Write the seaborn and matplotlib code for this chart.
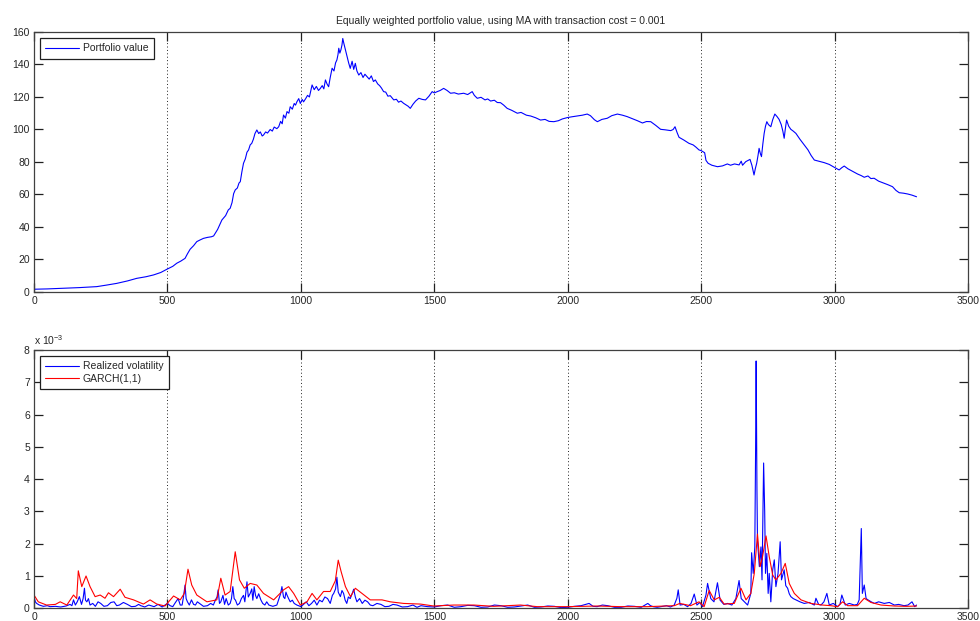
import matplotlib
matplotlib.use("Agg")
import matplotlib.pyplot as plt
import seaborn as sns
import pandas as pd

# Portfolio value (trading day, value)
pv_day = [0, 50, 110, 170, 235, 270, 310, 350, 385, 420, 448, 475, 498, 520, 535, 550,
          566, 575, 585, 598, 610, 622, 635, 650, 665, 673, 688, 704, 718, 728, 735,
          742, 748, 754, 762, 768, 773, 779, 785, 792, 798, 804, 810, 816, 822, 828,
          835, 842, 848, 855, 860, 868, 875, 885, 893, 900, 910, 917, 924, 930, 935,
          942, 948, 955, 960, 968, 975, 980, 985, 992, 998, 1005, 1010, 1018, 1025,
          1032, 1042, 1050, 1058, 1066, 1073, 1080, 1086, 1092, 1098, 1104, 1110, 1117,
          1124, 1130, 1135, 1139, 1142, 1146, 1150, 1154, 1157, 1161, 1167, 1173, 1179,
          1185, 1192, 1198, 1204, 1210, 1217, 1225, 1233, 1240, 1248, 1256, 1264, 1272,
          1279, 1288, 1295, 1302, 1310, 1318, 1326, 1335, 1348, 1358, 1366, 1375, 1385,
          1395, 1402, 1410, 1420, 1430, 1442, 1455, 1467, 1480, 1492, 1500, 1511, 1522,
          1535, 1548, 1561, 1575, 1590, 1610, 1625, 1642, 1650, 1661, 1675, 1690, 1700,
          1711, 1725, 1736, 1748, 1760, 1773, 1790, 1811, 1825, 1845, 1861, 1880, 1898,
          1915, 1930, 1948, 1965, 1980, 1998, 2015, 2036, 2055, 2073, 2085, 2100, 2111,
          2128, 2148, 2165, 2186, 2205, 2223, 2240, 2261, 2280, 2295, 2311, 2330, 2348,
          2365, 2386, 2395, 2402, 2410, 2417, 2435, 2454, 2470, 2480, 2492, 2500, 2513,
          2518, 2526, 2540, 2561, 2580, 2598, 2610, 2625, 2642, 2650, 2655, 2667, 2683,
          2690, 2698, 2703, 2708, 2713, 2717, 2722, 2726, 2731, 2736, 2741, 2746, 2752,
          2761, 2768, 2776, 2784, 2792, 2800, 2806, 2811, 2815, 2820, 2828, 2836, 2845,
          2855, 2870, 2886, 2900, 2912, 2924, 2940, 2961, 2980, 2999, 3017, 3027, 3036,
          3050, 3068, 3086, 3100, 3111, 3125, 3136, 3148, 3165, 3186, 3200, 3217, 3230,
          3242, 3258, 3274, 3290, 3307]
pv_value = [1.7, 1.9, 2.3, 2.7, 3.3, 4.2, 5.3, 6.8, 8.4, 9.4, 10.5, 12.0, 14.0, 15.8,
            17.7, 19.0, 20.7, 23.5, 26.3, 28.5, 31.0, 32.0, 33.0, 33.6, 34.0, 34.5, 38.5,
            44.3, 47.0, 50.5, 51.5, 55.0, 60.5, 62.8, 64.0, 67.0, 67.9, 74.0, 79.2, 82.0,
            86.0, 87.4, 90.5, 91.5, 94.0, 97.5, 99.7, 97.5, 98.5, 96.0, 96.6, 98.5, 97.8,
            100.0, 99.0, 101.5, 100.5, 101.7, 105.0, 103.5, 108.9, 107.0, 111.0, 110.0,
            114.0, 112.5, 116.0, 115.0, 117.0, 119.0, 116.0, 118.5, 117.0, 119.0, 121.0,
            120.0, 127.4, 124.5, 126.5, 124.0, 125.3, 127.0, 125.0, 130.5, 128.0, 126.3,
            132.0, 137.7, 136.0, 141.0, 142.8, 146.0, 150.0, 147.0, 149.0, 152.0, 156.0,
            153.0, 149.0, 144.8, 141.0, 137.6, 142.0, 137.0, 140.7, 136.0, 133.5, 135.0,
            132.0, 134.0, 132.5, 131.0, 133.0, 129.5, 130.5, 128.0, 127.0, 125.5, 123.3,
            123.0, 120.5, 120.8, 118.2, 118.6, 116.8, 117.5, 116.1, 115.0, 114.3, 113.0,
            115.5, 117.5, 119.2, 118.5, 118.2, 120.5, 123.3, 122.5, 123.3, 124.0, 125.3,
            124.0, 122.3, 122.6, 121.8, 122.3, 121.5, 123.3, 121.0, 119.2, 119.8, 118.2,
            118.8, 117.5, 118.0, 116.6, 116.5, 115.0, 113.0, 111.8, 110.0, 110.5, 108.8,
            108.3, 107.2, 105.8, 106.2, 105.0, 104.8, 105.4, 106.5, 107.3, 107.8, 108.3,
            108.8, 109.5, 108.5, 106.0, 104.8, 106.2, 106.9, 108.5, 109.5, 108.8, 107.9,
            106.8, 105.4, 104.0, 104.9, 104.8, 102.5, 100.1, 99.8, 99.3, 100.0, 101.7,
            98.0, 95.2, 93.5, 91.5, 90.5, 89.2, 87.4, 87.0, 85.7, 81.0, 79.2, 78.0, 77.1,
            77.6, 78.8, 78.0, 78.8, 78.2, 80.5, 78.0, 80.2, 81.6, 78.0, 72.0, 76.0, 79.2,
            84.0, 88.4, 85.0, 83.3, 91.0, 97.6, 102.0, 104.8, 103.0, 101.7, 106.0, 109.5,
            108.0, 106.2, 103.0, 99.0, 94.6, 100.0, 105.8, 102.0, 100.1, 99.0, 97.6, 94.0,
            90.5, 87.5, 84.0, 81.2, 80.5, 79.6, 78.5, 76.7, 75.1, 76.5, 77.5, 75.8, 74.2,
            72.6, 71.6, 70.6, 71.4, 69.8, 70.0, 68.2, 66.9, 66.0, 64.8, 62.5, 61.1, 60.8,
            60.3, 59.6, 58.6]

# Realized volatility (units of 1e-3)
rv_day = [0, 5, 10, 20, 35, 50, 60, 80, 100, 120, 135, 142, 148, 155, 162, 170, 178,
          184, 189, 193, 198, 204, 210, 220, 230, 240, 250, 262, 275, 288, 300, 310,
          320, 335, 350, 365, 380, 392, 400, 415, 430, 450, 465, 480, 500, 510, 520,
          530, 540, 548, 555, 560, 566, 570, 575, 582, 590, 598, 605, 612, 620, 635,
          650, 662, 672, 680, 686, 690, 695, 700, 708, 714, 720, 728, 735, 740, 745,
          750, 755, 762, 770, 777, 785, 790, 794, 798, 803, 810, 816, 820, 825, 830,
          835, 842, 850, 857, 865, 872, 880, 895, 910, 918, 924, 929, 935, 940, 944,
          948, 954, 960, 968, 975, 985, 1000, 1010, 1020, 1030, 1040, 1050, 1060, 1070,
          1080, 1090, 1100, 1110, 1118, 1123, 1130, 1135, 1140, 1148, 1154, 1160, 1166,
          1172, 1178, 1185, 1192, 1198, 1204, 1210, 1220, 1230, 1240, 1250, 1260, 1270,
          1285, 1300, 1315, 1330, 1345, 1360, 1380, 1400, 1420, 1435, 1450, 1475, 1500,
          1525, 1550, 1575, 1600, 1625, 1650, 1675, 1700, 1725, 1750, 1775, 1800, 1825,
          1850, 1875, 1900, 1925, 1950, 1975, 2000, 2025, 2050, 2080, 2095, 2110, 2130,
          2150, 2175, 2200, 2225, 2250, 2275, 2300, 2310, 2320, 2335, 2349, 2370, 2385,
          2399, 2409, 2414, 2421, 2435, 2449, 2462, 2474, 2484, 2495, 2505, 2518, 2524,
          2536, 2548, 2561, 2571, 2585, 2599, 2615, 2630, 2642, 2650, 2662, 2674, 2686,
          2689, 2695, 2701, 2704, 2706, 2709, 2711, 2718, 2724, 2728, 2734, 2738, 2741,
          2746, 2751, 2755, 2761, 2768, 2774, 2780, 2788, 2796, 2801, 2811, 2817, 2824,
          2830, 2836, 2845, 2855, 2870, 2886, 2905, 2924, 2930, 2940, 2949, 2960, 2971,
          2980, 2995, 3011, 3020, 3027, 3040, 3055, 3074, 3085, 3092, 3096, 3100, 3104,
          3111, 3118, 3125, 3137, 3149, 3165, 3186, 3205, 3224, 3240, 3260, 3275, 3290,
          3300, 3307]
rv_value = [0.36, 0.20, 0.15, 0.10, 0.06, 0.08, 0.05, 0.06, 0.04, 0.07, 0.12, 0.08,
            0.26, 0.10, 0.20, 0.36, 0.12, 0.30, 0.62, 0.25, 0.20, 0.30, 0.10, 0.15,
            0.06, 0.20, 0.15, 0.06, 0.08, 0.18, 0.20, 0.08, 0.10, 0.18, 0.12, 0.05,
            0.06, 0.12, 0.08, 0.04, 0.10, 0.05, 0.12, 0.04, 0.15, 0.08, 0.05, 0.18,
            0.30, 0.10, 0.10, 0.35, 0.72, 0.30, 0.20, 0.10, 0.26, 0.12, 0.10, 0.20,
            0.15, 0.06, 0.08, 0.15, 0.10, 0.26, 0.35, 0.57, 0.15, 0.20, 0.40, 0.12,
            0.30, 0.10, 0.15, 0.30, 0.67, 0.30, 0.25, 0.10, 0.15, 0.30, 0.40, 0.20,
            0.50, 0.82, 0.35, 0.46, 0.60, 0.25, 0.67, 0.40, 0.30, 0.45, 0.26, 0.15,
            0.10, 0.20, 0.10, 0.06, 0.10, 0.30, 0.45, 0.67, 0.35, 0.30, 0.50, 0.41,
            0.30, 0.20, 0.25, 0.15, 0.10, 0.05, 0.12, 0.20, 0.08, 0.15, 0.25, 0.10,
            0.25, 0.20, 0.35, 0.30, 0.15, 0.40, 0.46, 0.60, 0.96, 0.50, 0.36, 0.55,
            0.46, 0.25, 0.15, 0.35, 0.30, 0.45, 0.59, 0.35, 0.20, 0.30, 0.15, 0.25,
            0.20, 0.10, 0.08, 0.15, 0.12, 0.05, 0.06, 0.12, 0.10, 0.04, 0.05, 0.10,
            0.03, 0.08, 0.05, 0.04, 0.08, 0.10, 0.03, 0.05, 0.09, 0.08, 0.03, 0.04,
            0.10, 0.08, 0.03, 0.04, 0.07, 0.10, 0.03, 0.04, 0.07, 0.06, 0.02, 0.03,
            0.06, 0.08, 0.15, 0.06, 0.05, 0.10, 0.08, 0.03, 0.03, 0.07, 0.06, 0.03,
            0.15, 0.08, 0.05, 0.03, 0.05, 0.08, 0.04, 0.10, 0.31, 0.57, 0.10, 0.12,
            0.05, 0.15, 0.44, 0.10, 0.18, 0.05, 0.41, 0.77, 0.30, 0.20, 0.79, 0.25,
            0.12, 0.15, 0.10, 0.30, 0.86, 0.30, 0.20, 0.10, 0.46, 1.72, 1.08, 1.90,
            5.00, 7.66, 3.66, 2.10, 1.29, 1.90, 0.88, 4.50, 3.00, 1.08, 1.70, 0.46,
            1.08, 0.20, 1.19, 1.50, 0.67, 1.08, 2.06, 0.88, 1.19, 0.70, 0.62, 0.45,
            0.36, 0.30, 0.26, 0.20, 0.15, 0.18, 0.10, 0.31, 0.12, 0.10, 0.20, 0.46,
            0.10, 0.15, 0.05, 0.12, 0.41, 0.10, 0.15, 0.10, 0.12, 0.26, 1.34, 2.47,
            0.46, 0.72, 0.30, 0.26, 0.20, 0.15, 0.20, 0.15, 0.18, 0.10, 0.12, 0.08,
            0.10, 0.20, 0.05, 0.10]

# GARCH(1,1) conditional variance (units of 1e-3)
garch_day = [0, 16, 47, 80, 98, 123, 148, 160, 166, 179, 195, 210, 229, 248, 266, 279,
             298, 323, 341, 373, 410, 435, 460, 491, 523, 548, 563, 577, 591, 610, 648,
             685, 700, 716, 735, 754, 770, 788, 810, 835, 860, 898, 935, 954, 973, 998,
             1023, 1042, 1060, 1085, 1110, 1129, 1140, 1151, 1167, 1186, 1204, 1229,
             1260, 1304, 1335, 1385, 1448, 1498, 1573, 1648, 1723, 1823, 1886, 1998,
             2111, 2198, 2298, 2399, 2420, 2460, 2492, 2511, 2530, 2549, 2568, 2586,
             2624, 2649, 2668, 2686, 2699, 2711, 2721, 2730, 2743, 2755, 2768, 2780,
             2799, 2815, 2830, 2849, 2874, 2911, 2955, 2986, 3011, 3030, 3049, 3086,
             3111, 3136, 3174, 3224, 3270, 3307]
garch_value = [0.41, 0.20, 0.10, 0.12, 0.20, 0.10, 0.41, 0.30, 1.16, 0.67, 1.00, 0.67,
               0.36, 0.41, 0.31, 0.48, 0.36, 0.59, 0.34, 0.26, 0.13, 0.26, 0.13, 0.07,
               0.38, 0.26, 0.46, 1.21, 0.72, 0.41, 0.20, 0.26, 0.93, 0.41, 0.52, 1.75,
               0.88, 0.62, 0.77, 0.72, 0.46, 0.26, 0.57, 0.67, 0.46, 0.10, 0.20, 0.46,
               0.26, 0.52, 0.52, 0.85, 1.49, 1.13, 0.67, 0.36, 0.62, 0.46, 0.26, 0.26,
               0.20, 0.15, 0.13, 0.07, 0.10, 0.10, 0.06, 0.10, 0.05, 0.05, 0.07, 0.05,
               0.05, 0.08, 0.15, 0.08, 0.20, 0.05, 0.55, 0.26, 0.34, 0.13, 0.15, 0.62,
               0.26, 0.46, 1.08, 2.30, 1.29, 1.60, 2.24, 1.60, 1.03, 0.88, 1.08, 1.39,
               0.77, 0.46, 0.26, 0.15, 0.10, 0.08, 0.05, 0.20, 0.08, 0.08, 0.31, 0.18,
               0.10, 0.07, 0.06, 0.07]

x_ticks = list(range(0, 3501, 500))
top_yticks = list(range(0, 161, 20))
bottom_yticks = list(range(0, 9))

sns.set_style("white")
plt.rcParams["font.family"] = ["Liberation Sans", "DejaVu Sans"]
plt.rcParams["font.size"] = 7.5
plt.rcParams["mathtext.fontset"] = "custom"
plt.rcParams["mathtext.rm"] = "Liberation Sans"
plt.rcParams["xtick.bottom"] = True
plt.rcParams["xtick.top"] = True
plt.rcParams["ytick.left"] = True
plt.rcParams["ytick.right"] = True

fig = plt.figure(figsize=(9.8, 6.21), dpi=100)
ax1 = fig.add_axes([0.0347, 0.5298, 0.9531, 0.4187])
ax2 = fig.add_axes([0.0347, 0.0205, 0.9531, 0.4159])

pv_df = pd.DataFrame({"day": pv_day, "value": pv_value})
rv_df = pd.DataFrame({"day": rv_day, "value": rv_value})
garch_df = pd.DataFrame({"day": garch_day, "value": garch_value})

sns.lineplot(data=pv_df, x="day", y="value", ax=ax1, color="#0000ff", lw=0.8,
             estimator=None, sort=False, label="Portfolio value")
sns.lineplot(data=rv_df, x="day", y="value", ax=ax2, color="#0000ff", lw=0.8,
             estimator=None, sort=False, label="Realized volatility")
sns.lineplot(data=garch_df, x="day", y="value", ax=ax2, color="#ff0000", lw=0.8,
             estimator=None, sort=False, label="GARCH(1,1)")

ax1.set_ylim(0, 160)
ax1.set_yticks(top_yticks)
ax2.set_ylim(0, 8)
ax2.set_yticks(bottom_yticks)

for ax in (ax1, ax2):
    ax.set_xlim(0, 3500)
    ax.set_xticks(x_ticks)
    ax.set_xlabel("")
    ax.set_ylabel("")
    ax.tick_params(direction="in", length=6.5, width=0.9, color="#202020",
                   left=True, bottom=True, top=True, right=True,
                   labelsize=7.5, pad=3)
    for s in ax.spines.values():
        s.set_color("#404040")
        s.set_linewidth(0.9)
    ax.xaxis.grid(True, color="#202020", linestyle=(0, (1, 2.5)), linewidth=0.7)
    ax.yaxis.grid(False)
    leg = ax.legend(loc="upper left", fancybox=False, framealpha=1,
                    edgecolor="#202020", fontsize=7.5, handlelength=3.2,
                    borderpad=0.5, labelspacing=0.25, borderaxespad=0.6,
                    handletextpad=0.4)
    leg.get_frame().set_linewidth(0.9)

ax1.set_title("Equally weighted portfolio value, using MA with transaction cost = 0.001",
              fontsize=7.5, pad=6)
ax2.text(0.0, 1.012, r"x 10$^{-3}$", transform=ax2.transAxes, fontsize=7.5,
         ha="left", va="bottom")

fig.savefig("out.png", dpi=100)
